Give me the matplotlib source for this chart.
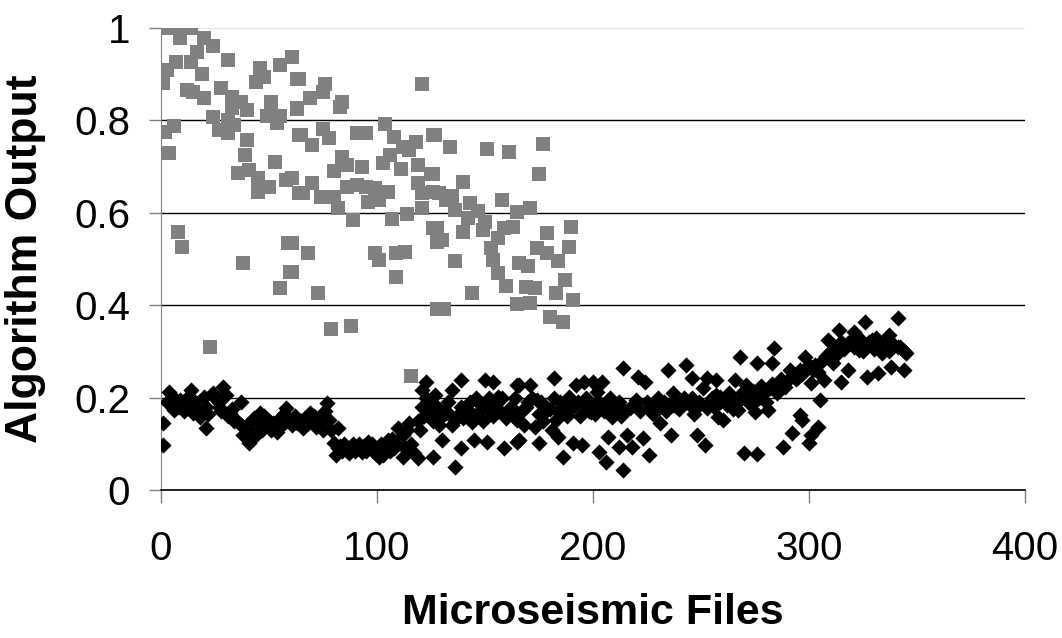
import matplotlib
matplotlib.use("Agg")
import matplotlib.pyplot as plt

plt.rcParams['font.family'] = ['Liberation Sans', 'DejaVu Sans']

# grey squares (first output)
grey_x = [4, 9, 14, 9, 20, 24, 31, 17, 7, 3, 14, 19, 1, 12, 20, 15, 28, 33, 37, 33, 40,
          24, 31, 34, 27, 31, 46, 48, 44, 55, 61, 63, 51, 49, 55, 54, 63, 64, 2, 6, 4,
          40, 39, 53, 36, 41, 45, 50, 45, 58, 61, 64, 8, 10, 38, 59, 60, 55, 23,
          64, 76, 75, 69, 63, 84, 83, 121,
          65, 70, 75, 78, 91, 95, 104, 108, 112, 118, 126, 115,
          84, 80, 86, 93, 103, 106, 111, 119, 125, 61,
          70, 66, 74, 80, 82, 86, 91, 95, 99, 96, 101, 105, 89, 107, 114, 119, 121, 126,
          121, 126, 128,
          61, 68, 61, 73, 99, 101, 109, 113, 109, 79, 88, 128, 116,
          127, 134, 151, 161, 177, 175, 126, 140,
          129, 135, 132, 143, 136, 147, 158, 165, 171, 128, 130, 140, 142, 150, 149, 159,
          163, 156, 153, 154, 156, 160, 136, 144, 166, 170, 174, 179, 179, 184, 190, 189,
          187, 183, 169, 173, 165, 171, 191, 180, 186, 131]
grey_y = [1.0, 1.0, 1.0, 0.978, 0.978, 0.96, 0.93, 0.948, 0.926, 0.909, 0.926, 0.90,
          0.88, 0.866, 0.848, 0.862, 0.87, 0.85, 0.84, 0.827, 0.822,
          0.807, 0.80, 0.79, 0.779, 0.773, 0.913, 0.894, 0.883, 0.92, 0.937, 0.89,
          0.84, 0.81, 0.81, 0.794, 0.827, 0.768, 0.775, 0.788, 0.729,
          0.758, 0.725, 0.71, 0.686, 0.693, 0.675, 0.656, 0.645, 0.671, 0.675, 0.643,
          0.558, 0.526, 0.491, 0.535, 0.472, 0.437, 0.31,
          0.89, 0.879, 0.862, 0.848, 0.824, 0.84, 0.829, 0.879,
          0.768, 0.747, 0.781, 0.762, 0.773, 0.773, 0.792, 0.764, 0.742, 0.753, 0.768,
          0.736,
          0.721, 0.69, 0.703, 0.699, 0.708, 0.725, 0.695, 0.703, 0.684, 0.675,
          0.665, 0.643, 0.634, 0.634, 0.61, 0.656, 0.66, 0.656, 0.654, 0.623, 0.628,
          0.645, 0.584, 0.587, 0.597, 0.664, 0.643, 0.645,
          0.61, 0.567, 0.537,
          0.535, 0.513, 0.472, 0.426, 0.513, 0.498, 0.513, 0.515, 0.461, 0.348, 0.355,
          0.392, 0.247,
          0.768, 0.742, 0.738, 0.732, 0.749, 0.684, 0.684, 0.667,
          0.643, 0.636, 0.628, 0.621, 0.606, 0.604, 0.628, 0.602, 0.61, 0.567, 0.541,
          0.558, 0.589, 0.58, 0.563, 0.567,
          0.569, 0.545, 0.524, 0.498, 0.47, 0.442, 0.496, 0.426, 0.491, 0.485, 0.524,
          0.556, 0.513, 0.496, 0.569, 0.526,
          0.455, 0.426, 0.44, 0.437, 0.403, 0.405, 0.411, 0.374, 0.364, 0.392]

# black diamonds (second output)
black_x = [4, 1, 1, 14, 29, 24, 6, 10, 15, 20, 21, 18, 27, 32, 37, 35, 40, 41, 46, 44,
           49, 54, 58, 60, 63, 69, 72, 77, 78, 80, 81,
           82, 82, 88, 96, 93, 101, 105, 112, 110, 115, 119, 121, 123, 121, 127, 126,
           129, 130, 135, 139, 136, 139, 132, 136, 142, 144, 145, 147, 151, 150, 154,
           156, 153, 161, 159, 165, 165, 165,
           166, 171, 182, 174, 169, 168, 166, 173, 175, 179, 183, 181, 184, 187, 189,
           191, 186, 195, 192, 196, 200, 204, 202, 196, 199, 207, 209, 203, 207, 206,
           212, 214, 216, 212, 214, 217, 218, 221, 224, 220, 223, 226, 227, 230, 231,
           233, 235, 237, 236, 239, 243, 246, 243, 248, 248, 252, 251, 253, 253, 257,
           258,
           257, 259, 260, 265, 266, 268, 267, 271, 270, 276, 275, 276, 279, 283, 284,
           281, 285, 289, 291, 288, 292, 296, 297, 295, 298, 300, 301, 304, 301, 305,
           303, 307, 309, 311, 314, 315, 318, 318, 321, 323, 326, 327, 329, 332, 334,
           337, 338, 341, 341, 344, 345,
           3, 6, 8, 9, 11, 12, 13, 16, 17, 21, 22, 25, 27, 28, 30, 31, 33, 34, 37, 38,
           40, 42, 43, 45, 47, 48, 50, 51, 52, 55, 56, 57, 58, 61, 62, 65, 66, 67, 68,
           70, 71, 73, 74, 75, 76, 79,
           83, 84, 85, 86, 87, 89, 90, 91, 92, 94, 95, 97, 98, 99, 101, 102, 103, 104,
           106, 107, 108, 109, 112, 113, 114, 116, 117, 119, 120, 122, 123, 124, 125,
           126,
           128, 130, 132, 133, 135, 137, 139, 140, 142, 143, 145, 146, 148, 149, 151,
           152, 154, 155, 157, 158, 160, 162, 163, 164, 167, 170, 172, 175, 176, 177,
           180, 182, 184, 185, 188, 190, 193, 194, 197, 198, 200, 201, 203, 205, 208,
           210, 212, 213, 215, 219, 222, 225, 227, 228, 230, 233, 234, 237, 238, 240,
           241, 242, 245, 246, 247, 249, 254, 255, 256, 259,
           261, 262, 263, 265, 268, 269, 272, 273, 274, 277, 278, 280, 282, 283, 286,
           287, 290, 293, 294, 296, 297, 300, 302, 304, 306, 308, 310, 312, 313, 315,
           316, 319, 321, 323, 324, 325, 328, 330, 331, 333, 335, 337, 339, 342, 344]
black_y = [0.212, 0.145, 0.097, 0.216, 0.223, 0.21, 0.173, 0.188, 0.166, 0.201, 0.134,
           0.158, 0.18, 0.166, 0.19, 0.151, 0.13, 0.101, 0.166, 0.119,
           0.141, 0.126, 0.177, 0.151, 0.145, 0.166, 0.136, 0.188, 0.151, 0.101, 0.076,
           0.134, 0.091, 0.087, 0.104, 0.082, 0.071, 0.108, 0.071, 0.134, 0.145, 0.069,
           0.18, 0.234, 0.216, 0.206, 0.071,
           0.141, 0.108, 0.216, 0.238, 0.05, 0.091, 0.166, 0.151, 0.173, 0.147, 0.108,
           0.19, 0.104, 0.238, 0.234,
           0.201, 0.166, 0.173, 0.091, 0.227, 0.104, 0.151,
           0.227, 0.227, 0.242, 0.195, 0.18, 0.141, 0.108, 0.136, 0.101, 0.173, 0.151,
           0.13, 0.115, 0.184, 0.201,
           0.101, 0.071, 0.097, 0.227, 0.234, 0.234, 0.234, 0.212, 0.184, 0.169, 0.184,
           0.158, 0.082, 0.115, 0.061,
           0.173, 0.264, 0.119, 0.093, 0.043, 0.177, 0.093, 0.245, 0.234, 0.195, 0.112,
           0.076, 0.173, 0.19, 0.145,
           0.18, 0.26, 0.21, 0.119, 0.18, 0.27, 0.242, 0.19, 0.18, 0.119, 0.097, 0.221,
           0.242, 0.177, 0.206,
           0.158,
           0.238, 0.201, 0.151, 0.195, 0.238, 0.288, 0.173, 0.227, 0.08, 0.078, 0.169,
           0.275, 0.21, 0.275, 0.307,
           0.173, 0.21, 0.223, 0.26, 0.093, 0.123, 0.162, 0.151, 0.245, 0.288, 0.101,
           0.119, 0.136, 0.232, 0.195,
           0.27, 0.238, 0.325, 0.275, 0.346, 0.234, 0.26, 0.318, 0.342, 0.303, 0.364,
           0.245, 0.325, 0.253, 0.297,
           0.335, 0.266, 0.372, 0.31, 0.26, 0.297,
           0.19, 0.2, 0.18, 0.195, 0.17, 0.2, 0.185, 0.19, 0.175, 0.18, 0.165, 0.2,
           0.19, 0.17, 0.205, 0.16, 0.175, 0.15, 0.14, 0.12,
           0.14, 0.13, 0.155, 0.15, 0.13, 0.16, 0.15, 0.13, 0.145, 0.155, 0.14, 0.165,
           0.15, 0.14, 0.16, 0.15, 0.135, 0.155, 0.145,
           0.15, 0.16, 0.14, 0.15, 0.13, 0.17, 0.13,
           0.095, 0.085, 0.1, 0.09, 0.08, 0.1, 0.085, 0.09, 0.1, 0.095, 0.085, 0.09,
           0.1, 0.08, 0.09, 0.1, 0.075, 0.095,
           0.085, 0.11, 0.09, 0.1, 0.12, 0.09, 0.13, 0.1, 0.08, 0.15, 0.13, 0.16, 0.2,
           0.19, 0.17,
           0.15,
           0.18, 0.16, 0.17, 0.19, 0.14, 0.16, 0.18, 0.155, 0.17, 0.19, 0.16, 0.2,
           0.17, 0.15, 0.18,
           0.2, 0.16, 0.19, 0.17, 0.2, 0.155, 0.18, 0.16, 0.2, 0.17, 0.19, 0.2, 0.165,
           0.19, 0.15,
           0.175, 0.2, 0.17, 0.19, 0.16, 0.175, 0.19, 0.16, 0.2, 0.17, 0.185, 0.165,
           0.19, 0.17, 0.2,
           0.18, 0.19, 0.16, 0.17, 0.185, 0.17, 0.19, 0.18, 0.165, 0.2, 0.19, 0.17,
           0.185, 0.195, 0.175,
           0.19, 0.2, 0.185, 0.2, 0.165, 0.19, 0.19, 0.2, 0.18, 0.19,
           0.2, 0.185, 0.21, 0.175, 0.195, 0.21, 0.2, 0.185, 0.215, 0.2, 0.225, 0.19,
           0.22, 0.23, 0.225,
           0.24, 0.235, 0.25, 0.24, 0.26, 0.25, 0.27, 0.26, 0.255, 0.28, 0.29, 0.3,
           0.31, 0.295, 0.32,
           0.305, 0.32, 0.31, 0.33, 0.315, 0.3, 0.32, 0.305, 0.33, 0.31, 0.32, 0.3,
           0.315, 0.31, 0.3]

x_ticks = [0, 100, 200, 300, 400]
y_ticks = [0, 0.2, 0.4, 0.6, 0.8, 1.0]
y_tick_labels = ['0', '0.2', '0.4', '0.6', '0.8', '1']

fig = plt.figure(figsize=(10.62, 6.38), dpi=100)
ax = fig.add_axes([0.1513, 0.232, 0.8139, 0.7241])

ax.scatter(grey_x, grey_y, marker='s', s=100, color='#808080', linewidths=0, zorder=3)
ax.scatter(black_x, black_y, marker='D', s=68, color='black', linewidths=0, zorder=4)

ax.set_xlim(0, 400)
ax.set_ylim(0, 1)
ax.set_xticks(x_ticks)
ax.set_yticks(y_ticks)
ax.set_yticklabels(y_tick_labels)

ax.grid(axis='y', color='black', linewidth=1.0)
ax.get_ygridlines()[-1].set_color('#e6e6e6')
ax.set_axisbelow(True)

for side in ['top', 'right']:
    ax.spines[side].set_visible(False)
ax.spines['left'].set_color('#808080')
ax.spines['bottom'].set_color('black')
ax.spines['bottom'].set_linewidth(1.2)

ax.tick_params(axis='both', labelsize=29, direction='out', length=9, color='#808080',
               width=1)
ax.tick_params(axis='x', pad=20)
ax.tick_params(axis='y', pad=13)

ax.set_xlabel('Microseismic Files', fontsize=31, fontweight='bold')
ax.xaxis.set_label_coords(0.5, -0.222)
ax.set_ylabel('Algorithm Output', fontsize=32, fontweight='bold')
ax.yaxis.set_label_coords(-0.133, 0.5)

fig.savefig('out.png', dpi=100)
